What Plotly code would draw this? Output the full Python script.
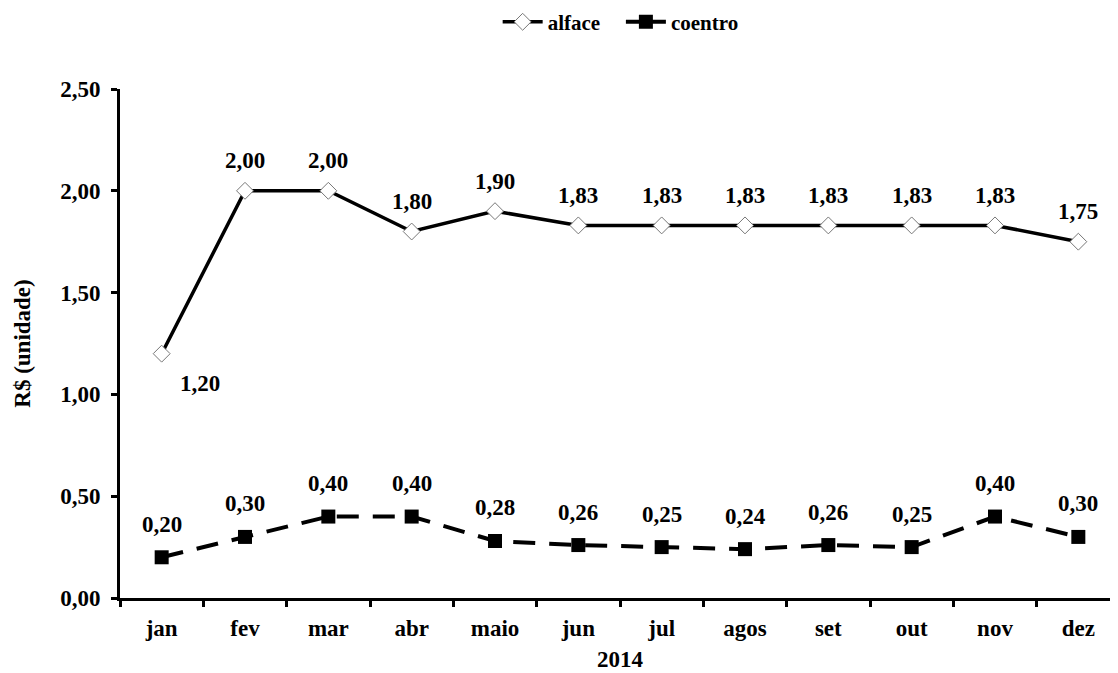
import plotly.graph_objects as go

meses = ["jan", "fev", "mar", "abr", "maio", "jun", "jul", "agos", "set", "out", "nov", "dez"]
alface = [1.20, 2.00, 2.00, 1.80, 1.90, 1.83, 1.83, 1.83, 1.83, 1.83, 1.83, 1.75]
coentro = [0.20, 0.30, 0.40, 0.40, 0.28, 0.26, 0.25, 0.24, 0.26, 0.25, 0.40, 0.30]
y_ticks = [0.0, 0.5, 1.0, 1.5, 2.0, 2.5]

def fmt(v):
    return f"{v:.2f}".replace(".", ",")

FONT = "Liberation Serif, Times New Roman, serif"
SZ = 23
LBL = dict(family=FONT, size=SZ, color="black", weight="bold")

fig = go.Figure()
fig.add_trace(go.Scatter(
    x=meses, y=alface, name="alface\u00a0\u00a0\u00a0", mode="lines+markers",
    line=dict(color="black", width=3.5),
    marker=dict(symbol="diamond", size=13, color="white", line=dict(color="#777", width=1)),
    cliponaxis=False,
))
fig.add_trace(go.Scatter(
    x=meses, y=coentro, name="coentro", mode="lines+markers",
    line=dict(color="black", width=4, dash="22px,14px"),
    marker=dict(symbol="square", size=14, color="black"),
    cliponaxis=False, showlegend=False,
))
# legend entry for coentro (solid short line like the reference legend)
fig.add_trace(go.Scatter(
    x=[None], y=[None], name="coentro", mode="lines+markers",
    line=dict(color="black", width=4),
    marker=dict(symbol="square", size=14, color="black"),
))

for i, (m, v) in enumerate(zip(meses, alface)):
    if i == 0:
        fig.add_annotation(x=m, y=v, text=fmt(v), showarrow=False, font=LBL,
                           xshift=38, yshift=-30)
    else:
        fig.add_annotation(x=m, y=v, text=fmt(v), showarrow=False, font=LBL, yshift=30)
for m, v in zip(meses, coentro):
    fig.add_annotation(x=m, y=v, text=fmt(v), showarrow=False, font=LBL, yshift=33)

fig.update_layout(
    width=1118, height=673,
    margin=dict(l=112, r=6, t=81, b=83),
    plot_bgcolor="white", paper_bgcolor="white",
    font=dict(family=FONT, size=20, color="black", weight="bold"),
    showlegend=True,
    legend=dict(orientation="h", x=0.548, y=0.979, xref="container", yref="container",
                xanchor="center", yanchor="middle", font=dict(family=FONT, size=21, weight="bold"),
                itemwidth=40),
    xaxis=dict(
        type="category", range=[-0.5, 11.5], tickson="boundaries",
        ticks="outside", ticklen=6, tickwidth=3, tickcolor="black",
        showline=True, linewidth=3, linecolor="black", showgrid=False,
        tickfont=dict(family=FONT, size=SZ, weight="bold"),
        ticklabelstandoff=7, automargin=False,
        title=dict(text="2014", font=dict(family=FONT, size=SZ, weight="bold"), standoff=12),
    ),
    yaxis=dict(
        range=[0, 2.5], tickvals=y_ticks, ticktext=[fmt(v) for v in y_ticks],
        ticks="outside", ticklen=6, tickwidth=3, tickcolor="black",
        showline=True, linewidth=3, linecolor="black", showgrid=False, zeroline=False,
        tickfont=dict(family=FONT, size=SZ, weight="bold"),
        ticklabelstandoff=6, automargin=False,
        title=dict(text="R$ (unidade)", font=dict(family=FONT, size=SZ, weight="bold"), standoff=24),
    ),
)

fig.write_html("out.html")
